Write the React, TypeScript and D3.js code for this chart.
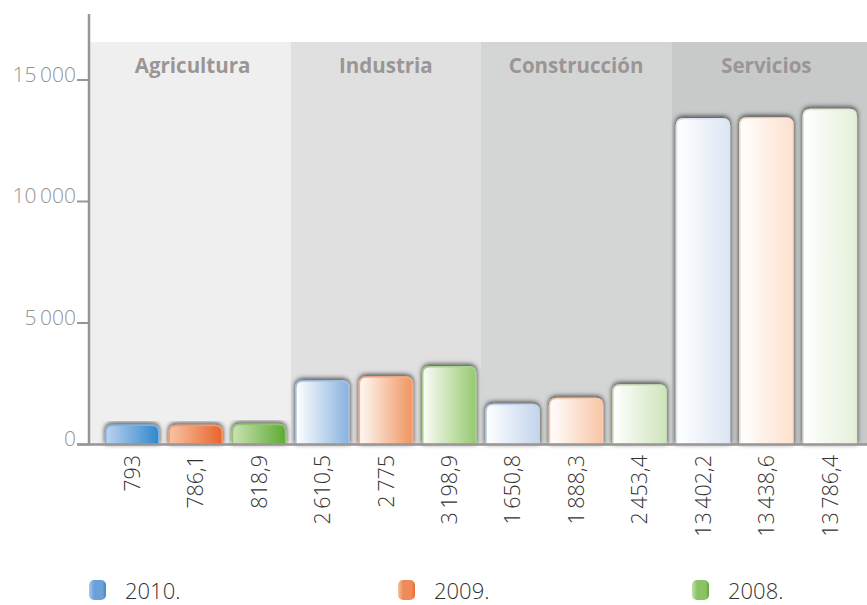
import React from "react";
import * as d3 from "d3";

const categories = ["Agricultura", "Industria", "Construcción", "Servicios"];
const years = ["2010.", "2009.", "2008."];
const values2010 = [793, 2610.5, 1650.8, 13402.2];
const values2009 = [786.1, 2775, 1888.3, 13438.6];
const values2008 = [818.9, 3198.9, 2453.4, 13786.4];
const yTicks = [0, 5000, 10000, 15000];

const W = 867;
const H = 605;

// styling: panel backgrounds and gradient ends [left, right] per category / series
const panelFill = ["#efefef", "#e0e0e0", "#d4d5d5", "#c8c9c9"];
const barGrad: string[][][] = [
  [["#bcd3ee", "#2f87cd"], ["#f7c4a4", "#e8642b"], ["#cbe2b4", "#5cab33"]],
  [["#ffffff", "#89b2de"], ["#fffaf5", "#ef9461"], ["#fbfdf8", "#97c971"]],
  [["#ffffff", "#c3d5ed"], ["#ffffff", "#f9c6a6"], ["#ffffff", "#cfe5bb"]],
  [["#ffffff", "#dde6f3"], ["#ffffff", "#fde1ce"], ["#ffffff", "#e5f0da"]],
];
const barStroke: string[][] = [
  ["#7fb0e0", "#f49a6a", "#92c66c"],
  ["#a3c3e7", "#f5ad85", "#a9d38a"],
  ["#c2d4ec", "#f8c9ad", "#cde2ba"],
  ["#d9e2f0", "#f9dccb", "#dfebd4"],
];
const legendGrad = [
  ["#a9c9ec", "#6aa1d9", "#3c88ca"],
  ["#f6c0a0", "#ef8b58", "#e8692e"],
  ["#c4e0a8", "#8cc266", "#5fa838"],
];

const locale = d3.formatLocale({
  decimal: ",",
  thousands: "\u2009",
  grouping: [3],
  currency: ["", ""],
});
const fmtInt = locale.format(",d");
const fmtDec = locale.format(",.1f");
const fmt = (v: number) => (Number.isInteger(v) ? fmtInt(v) : fmtDec(v));

export default function App() {
  const series = [values2010, values2009, values2008];
  const bars = categories.flatMap((c, ci) =>
    series.map((s, si) => ({ ci, si, value: s[ci], key: `${ci}-${si}` }))
  );

  const y = d3.scaleLinear().domain([0, 15000]).range([444.5, 80]);
  const x = d3
    .scaleBand<string>()
    .domain(bars.map((b) => b.key))
    .range([100.5, 861.5])
    .paddingInner(0.164)
    .paddingOuter(0.082);
  const xc = d3
    .scaleBand<string>()
    .domain(categories)
    .range([100.5, 861.5])
    .padding(0);

  const base = y(0);
  const r = 7;
  const barPath = (x0: number, w: number, yt: number) => {
    const p = d3.path();
    p.moveTo(x0, base);
    p.lineTo(x0, yt + r);
    p.quadraticCurveTo(x0, yt, x0 + r, yt);
    p.lineTo(x0 + w - r, yt);
    p.quadraticCurveTo(x0 + w, yt, x0 + w, yt + r);
    p.lineTo(x0 + w, base);
    p.closePath();
    return p.toString();
  };

  const axisColor = "#9a9595";
  const labelFont = "'Open Sans', 'Liberation Sans', sans-serif";

  const legendX = [89, 398, 692];

  return (
    <svg
      width={W}
      height={H}
      style={{ position: "absolute", left: 0, top: 0, background: "#fff" }}
    >
      <defs>
        {bars.map((b) => (
          <linearGradient key={b.key} id={`g${b.key}`} x1="0" x2="1" y1="0" y2="0">
            <stop offset="0%" stopColor={barGrad[b.ci][b.si][0]} />
            <stop offset="100%" stopColor={barGrad[b.ci][b.si][1]} />
          </linearGradient>
        ))}
        {legendGrad.map((g, i) => (
          <linearGradient key={i} id={`lg${i}`} x1="0" x2="1" y1="0" y2="0">
            <stop offset="0%" stopColor={g[0]} />
            <stop offset="30%" stopColor={g[1]} />
            <stop offset="80%" stopColor={g[1]} />
            <stop offset="100%" stopColor={g[2]} />
          </linearGradient>
        ))}
        <filter id="shadow" x="-20%" y="-20%" width="140%" height="140%">
          <feDropShadow dx="0" dy="-1.5" stdDeviation="2.5" floodColor="#111" floodOpacity="0.8" />
        </filter>
      </defs>

      {/* category panels */}
      {categories.map((c, i) => {
        const x0 = i === 0 ? 89 : xc(c)!;
        const x1 = i === categories.length - 1 ? W : xc(c)! + xc.bandwidth();
        return <rect key={c} x={x0} y={42} width={x1 - x0} height={base - 42} fill={panelFill[i]} />;
      })}
      {categories.map((c) => (
        <text
          key={c}
          x={xc(c)! + xc.bandwidth() / 2 + (c === "Agricultura" ? -3 : 0)}
          y={73}
          textAnchor="middle"
          fontFamily={labelFont}
          fontWeight={700}
          fontSize={20.5}
          fill="#9b9696"
        >
          {c}
        </text>
      ))}

      {/* bars */}
      {bars.map((b) => {
        const bx = x(b.key)!;
        const w = x.bandwidth();
        return (
          <path
            key={b.key}
            d={barPath(bx, w, y(b.value))}
            fill={`url(#g${b.key})`}
            stroke={barStroke[b.ci][b.si]}
            strokeWidth={1.5}
            filter="url(#shadow)"
          />
        );
      })}

      {/* axes */}
      <line x1={89} x2={89} y1={14} y2={base + 1} stroke={axisColor} strokeWidth={2.5} />
      <line x1={77} x2={W} y1={base} y2={base} stroke={axisColor} strokeWidth={2.5} />
      {yTicks.map((t) => (
        <g key={t}>
          <line x1={77} x2={89} y1={y(t)} y2={y(t)} stroke={axisColor} strokeWidth={2} />
          <text
            x={76}
            y={y(t) + 1.5}
            textAnchor="end"
            fontFamily={labelFont}
            fontWeight={300}
            fontSize={21}
            fill="#969393"
          >
            {fmtInt(t)}
          </text>
        </g>
      ))}

      {/* value labels */}
      {bars.map((b) => {
        const cx = x(b.key)! + x.bandwidth() / 2;
        return (
          <text
            key={b.key}
            transform={`translate(${cx},${455}) rotate(-90)`}
            textAnchor="end"
            dy="0.36em"
            fontFamily={labelFont}
            fontWeight={300}
            fontSize={21.5}
            fill="#333"
          >
            {fmt(b.value)}
          </text>
        );
      })}

      {/* legend */}
      {years.map((yr, i) => (
        <g key={yr}>
          <rect x={legendX[i]} y={580} width={17} height={20} rx={5} fill={`url(#lg${i})`} />
          <text
            x={legendX[i] + 36}
            y={599}
            fontFamily={labelFont}
            fontWeight={300}
            fontSize={22}
            fill="#333"
          >
            {yr}
          </text>
        </g>
      ))}
    </svg>
  );
}
